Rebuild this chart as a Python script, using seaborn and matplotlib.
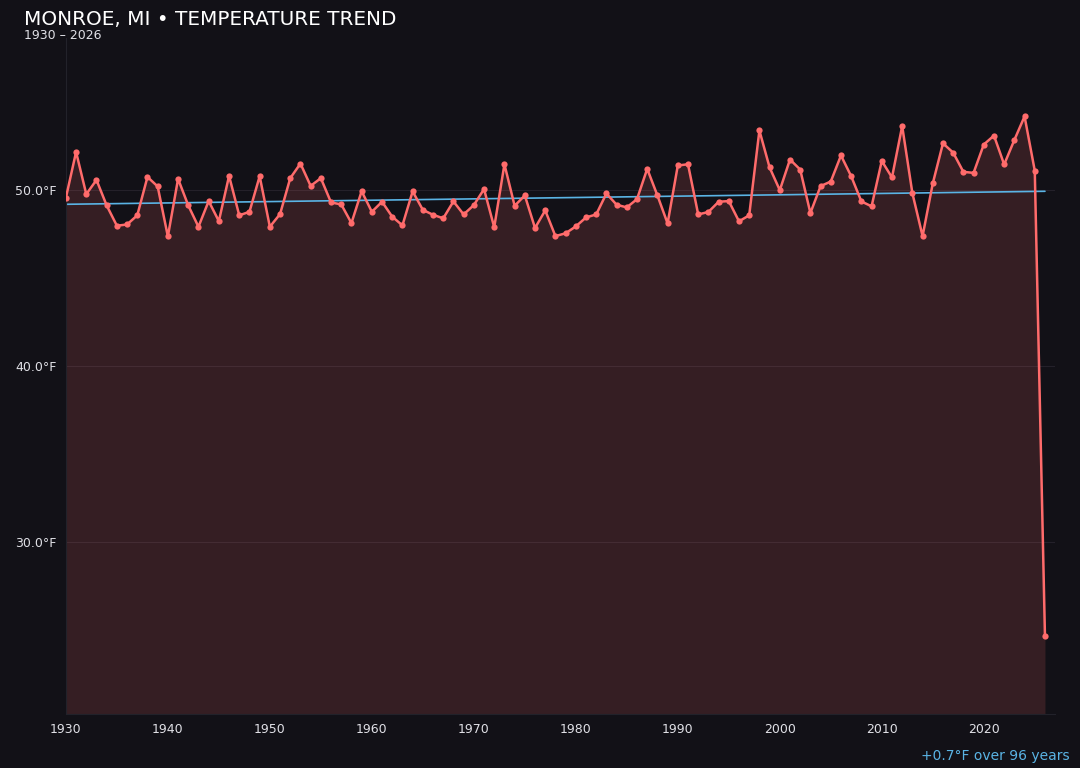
import matplotlib
matplotlib.use("Agg")
import matplotlib.pyplot as plt
import seaborn as sns
import numpy as np
import pandas as pd

# annual mean temperature, Monroe MI
years = list(range(1930, 2027))
temps = [
    49.56, 52.17, 49.77, 50.58, 49.13, 47.98, 48.05, 48.57, 50.75, 50.21,  # 1930s
    47.37, 50.64, 49.13, 47.92, 49.38, 48.24, 50.81, 48.57, 48.77, 50.79,  # 1940s
    47.92, 48.64, 50.68, 51.51, 50.24, 50.68, 49.30, 49.19, 48.13, 49.94,  # 1950s
    48.77, 49.34, 48.49, 48.00, 49.93, 48.88, 48.60, 48.40, 49.36, 48.62,  # 1960s
    49.15, 50.06, 47.89, 51.47, 49.11, 49.70, 47.85, 48.85, 47.39, 47.55,  # 1970s
    47.94, 48.45, 48.62, 49.81, 49.17, 49.02, 49.49, 51.21, 49.70, 48.11,  # 1980s
    51.40, 51.47, 48.62, 48.76, 49.34, 49.38, 48.23, 48.57, 53.39, 51.29,  # 1990s
    50.00, 51.74, 51.17, 48.70, 50.23, 50.49, 51.97, 50.79, 49.36, 49.08,  # 2000s
    51.66, 50.72, 53.64, 49.83, 47.39, 50.38, 52.66, 52.13, 51.04, 50.98,  # 2010s
    52.59, 53.10, 51.46, 52.85, 54.19, 51.11, 24.66,                      # 2020s
]
yticks = [30, 40, 50]
xticks = [1930, 1940, 1950, 1960, 1970, 1980, 1990, 2000, 2010, 2020]

BG = "#121117"
RED = "#ff6b6b"
BLUE = "#5ab4e5"
TXT = "#e0e0e6"

df = pd.DataFrame({"year": years, "temp": temps})

sns.set_style("dark")
fig = plt.figure(figsize=(10.8, 7.68), dpi=100, facecolor=BG)
ax = fig.add_axes([0.061, 0.07, 0.916, 0.88])
ax.set_facecolor(BG)

lo = df.temp.min()
hi = df.temp.max()
pad = (hi - lo) * 0.15
ymin, ymax = lo - pad, hi + pad

ax.fill_between(df.year, df.temp, ymin, color=RED, alpha=0.15, linewidth=0, zorder=1)
sns.lineplot(data=df, x="year", y="temp", ax=ax, color=RED, linewidth=1.8,
             marker="o", markersize=4.5, markeredgewidth=0, zorder=3)

# linear trend
k, b = np.polyfit(df.year, df.temp, 1)
trend = k * df.year + b
sns.lineplot(x=df.year, y=trend, ax=ax, color=BLUE, linewidth=1.2, zorder=2)
change = trend.iloc[-1] - trend.iloc[0]

ax.set_xlim(1930, 2027)
ax.set_ylim(ymin, ymax)
ax.set_xticks(xticks)
ax.set_xticklabels([str(x) for x in xticks])
ax.set_yticks(yticks)
ax.set_yticklabels([f"{y:.1f}°F" for y in yticks])
ax.set_xlabel("")
ax.set_ylabel("")

ax.grid(axis="y", color="#24212a", linewidth=0.8)
ax.grid(axis="x", visible=False)
ax.tick_params(colors=TXT, labelsize=9, length=3, width=0.8)
ax.tick_params(axis="both", color="#2a2a32")
for s in ["top", "right"]:
    ax.spines[s].set_visible(False)
for s in ["left", "bottom"]:
    ax.spines[s].set_visible(True)
    ax.spines[s].set_color("#22222a")
    ax.spines[s].set_linewidth(0.8)

fig.text(0.022, 0.974, "MONROE, MI • TEMPERATURE TREND", color="white",
         fontsize=14.4, ha="left", va="center")
fig.text(0.022, 0.954, "1930 – 2026", color=TXT, fontsize=9, ha="left", va="center")
fig.text(0.99, 0.0156, f"{change:+.1f}°F over {years[-1] - years[0]} years", color=BLUE,
         fontsize=10, ha="right", va="center")

fig.savefig("out.png", dpi=100, facecolor=BG)
